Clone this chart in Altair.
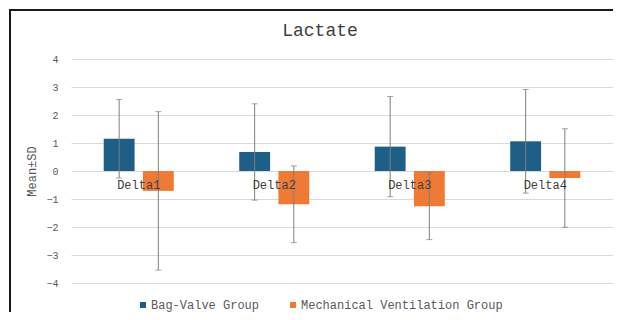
import altair as alt
import pandas as pd

categories = ["Delta1", "Delta2", "Delta3", "Delta4"]
groups = ["Bag-Valve Group", "Mechanical Ventilation Group"]
bag_means = [1.15, 0.68, 0.87, 1.06]
bag_sds = [1.40, 1.72, 1.79, 1.85]
mv_means = [-0.71, -1.19, -1.26, -0.25]
mv_sds = [2.83, 1.37, 1.19, 1.76]
y_ticks = [-4, -3, -2, -1, 0, 1, 2, 3, 4]
chart_title = "Lactate"

rows = []
for i, c in enumerate(categories):
    rows.append({"cat": c, "group": groups[0], "mean": bag_means[i], "sd": bag_sds[i]})
    rows.append({"cat": c, "group": groups[1], "mean": mv_means[i], "sd": mv_sds[i]})
df = pd.DataFrame(rows)
df["lo"] = df["mean"] - df["sd"]
df["hi"] = df["mean"] + df["sd"]

FONT = "Liberation Mono"
TXT = "#595959"
W, H = 542, 224

x_enc = alt.X("cat:N", sort=categories, axis=None,
              scale=alt.Scale(paddingInner=0.483, paddingOuter=0.2415))
xo_enc = alt.XOffset("group:N", sort=groups,
                     scale=alt.Scale(paddingInner=0.212, paddingOuter=0))
y_scale = alt.Scale(domain=[-4, 4], nice=False, zero=False)
y_axis = alt.Axis(values=y_ticks, tickCount=9, grid=True, gridColor="#D9D9D9",
                  domain=False, ticks=False, labelFont=FONT, labelFontSize=10,
                  labelColor=TXT, labelOverlap=False, labelPadding=13, title="Mean±SD",
                  titleFont=FONT, titleFontSize=12, titleFontWeight="normal",
                  titleColor=TXT, titlePadding=7)

base = alt.Chart(df)

bars = base.mark_bar().encode(
    x=x_enc,
    xOffset=xo_enc,
    y=alt.Y("mean:Q", scale=y_scale, axis=y_axis, title="Mean±SD"),
    y2=alt.datum(0),
    color=alt.Color("group:N", sort=groups,
                    scale=alt.Scale(domain=groups, range=["#1E5F87", "#EE7A35"]),
                    legend=alt.Legend(orient="none", legendX=66, legendY=240,
                                      direction="horizontal", title=None,
                                      symbolType="square", symbolSize=36,
                                      symbolStrokeWidth=0, labelFont=FONT,
                                      labelFontSize=12, labelColor=TXT, labelLimit=0,
                                      labelOffset=2, columnPadding=27)),
)

rules = base.mark_rule(color="#7F7F7F", strokeWidth=1).encode(
    x=x_enc, xOffset=xo_enc,
    y=alt.Y("lo:Q", scale=y_scale, axis=y_axis, title="Mean±SD"), y2="hi:Q"
)
cap_hi = base.mark_tick(color="#7F7F7F", thickness=1, size=6).encode(
    x=x_enc, xOffset=xo_enc,
    y=alt.Y("hi:Q", scale=y_scale, axis=y_axis, title="Mean±SD")
)
cap_lo = base.mark_tick(color="#7F7F7F", thickness=1, size=6).encode(
    x=x_enc, xOffset=xo_enc,
    y=alt.Y("lo:Q", scale=y_scale, axis=y_axis, title="Mean±SD")
)

labels = alt.Chart(pd.DataFrame({"cat": categories})).mark_text(
    font=FONT, fontSize=12, color="#404040", baseline="alphabetic", dy=18
).encode(x=x_enc, y=alt.datum(0), text="cat:N")

title = alt.Chart(pd.DataFrame({"t": [chart_title]})).mark_text(
    font=FONT, fontSize=18, color="#404040", baseline="alphabetic", align="center"
).encode(x=alt.value(249), y=alt.value(-23), text="t:N")

frame = alt.Chart(pd.DataFrame({"k": [0]})).mark_rect(
    fill=None, stroke="#1a1a1a", strokeWidth=2
).encode(x=alt.value(-61), x2=alt.value(W + 40), y=alt.value(-49), y2=alt.value(H + 60))

chart = alt.layer(frame, bars, rules, cap_hi, cap_lo, labels, title).properties(
    width=W, height=H,
    autosize=alt.AutoSizeParams(type="none"),
    padding={"left": 63, "top": 51, "right": 0, "bottom": 29},
).configure_view(stroke=None)

chart.save("out.html", embed_options={"renderer": "svg", "actions": False})
